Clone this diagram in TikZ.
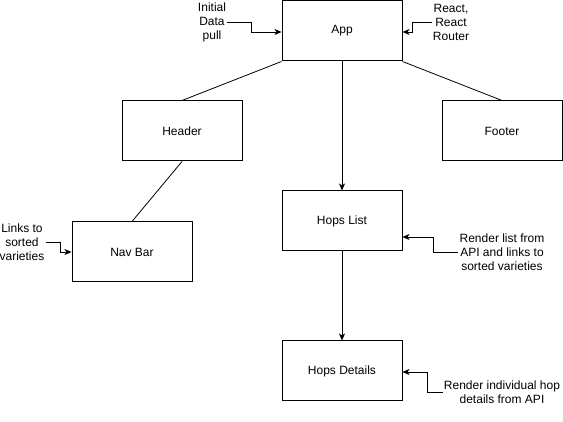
\documentclass[tikz,border=0pt]{standalone}
\usepackage{fontspec}
\setmainfont{Liberation Sans}
\usetikzlibrary{arrows.meta}
\begin{document}
\begin{tikzpicture}[x=1pt,y=-1pt,
  box/.style={draw, line width=1pt, minimum width=120pt, minimum height=60pt, inner sep=0pt, font=\fontsize{12}{14}\selectfont},
  lbl/.style={align=center, inner sep=1pt, font=\fontsize{12}{14}\selectfont},
  link/.style={line width=0.8pt},
  arr/.style={line width=0.8pt, -{Stealth[length=7pt,width=6pt,inset=2pt]}}]
\useasboundingbox (0,0) rectangle (563,422);
\node[box] (app) at (342,31) {App};
\node[box] (header) at (182,131) {Header};
\node[box] (footer) at (502,131) {Footer};
\node[box] (hops) at (342,221) {Hops List};
\node[box] (nav) at (132,252) {Nav Bar};
\node[box] (details) at (342,371) {Hops Details};
\node[lbl] (initial) at (212,22) {Initial\\Data\\pull};
\node[lbl] (react) at (451,22) {React,\\React\\Router};
\node[lbl] (links) at (22,242) {Links to\\sorted\\varieties};
\node[lbl] (render) at (502,252) {Render list from\\API and links to\\sorted varieties};
\node[lbl] (indiv) at (502,392) {Render individual hop\\details from API};
\draw[link] (app.south west) -- (header.north);
\draw[link] (app.south east) -- (footer.north);
\draw[link] (header.south) -- (nav.north);
\draw[arr] (app) -- (hops);
\draw[arr] (hops) -- (details);
\draw[arr] (initial.east) -- ++(24,0) |- ([yshift=-1pt]app.west);
\draw[arr] (react.west) -- ++(-19,0) |- ([yshift=-1pt]app.east);
\draw[arr] (links.east) -- ++(15,0) |- (nav.west);
\draw[arr] (render.west) -- ++(-25,0) |- ([yshift=-16pt]hops.east);
\draw[arr] (indiv.west) -- ++(-15,0) |- ([yshift=-1pt]details.east);
\end{tikzpicture}
\end{document}
